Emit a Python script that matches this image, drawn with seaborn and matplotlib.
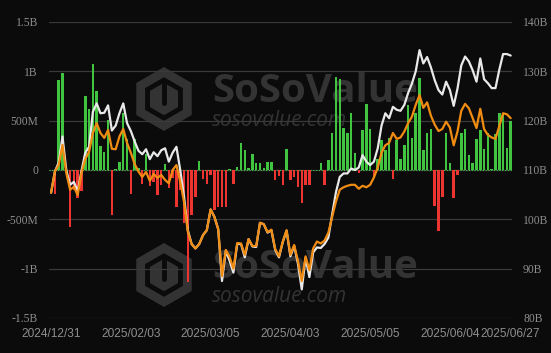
import numpy as np
import pandas as pd
import seaborn as sns
from matplotlib import pyplot as plt
from matplotlib.patches import RegularPolygon
from matplotlib.ticker import FuncFormatter

# 每日净流入 (B USD)
flows = [
    0.0, -0.24, 0.91, 0.98, 0.0, -0.58, -0.20, -0.28, -0.21, 0.75,
    0.62, 1.07, 0.80, 0.24, 0.18, 0.51, -0.46, 0.01, 0.08, 0.58,
    0.31, -0.24, 0.31, 0.02, -0.14, 0.16, -0.16, -0.12, -0.25, -0.15,
    0.06, -0.18, -0.08, -0.37, -0.20, -0.54, -1.14, -0.46, -0.27, 0.09,
    -0.09, -0.14, -0.05, -0.41, -0.37, -0.37, -0.37, 0.01, -0.14, 0.03,
    0.27, 0.20, 0.02, 0.16, 0.07, 0.07, 0.02, 0.08, 0.08, -0.10,
    -0.06, -0.15, 0.21, -0.10, -0.07, -0.17, -0.33, -0.15, -0.15, 0.0,
    0.0, 0.07, -0.15, 0.10, 0.38, 0.94, 0.92, 0.43, 0.37, 0.58,
    0.17, -0.03, 0.41, 0.67, 0.42, -0.08, 0.11, 0.30, 0.20, 0.32,
    -0.09, 0.30, 0.11, 0.25, 0.66, 0.32, 0.58, 0.93, 0.20, 0.37,
    0.42, -0.36, -0.62, -0.27, 0.37, 0.07, -0.28, -0.05, 0.38, 0.42,
    0.15, 0.07, 0.31, 0.41, 0.21, 0.38, 0.01, 0.36, 0.58, 0.57,
    0.22, 0.50,
]

# 总净资产 (B USD, 白线)
total_assets = [
    105.4, 109.7, 111.5, 116.8, 110.0, 107.0, 107.6, 105.6, 109.8, 113.5,
    114.7, 121.8, 123.5, 121.5, 121.6, 123.1, 118.0, 119.0, 121.5, 123.5,
    119.5, 117.9, 115.8, 113.9, 113.2, 114.2, 112.2, 113.6, 112.8, 114.0,
    114.4, 111.7, 113.5, 114.7, 110.0, 104.6, 97.8, 95.0, 94.1, 95.0,
    96.8, 97.8, 102.0, 100.5, 98.0, 87.5, 93.6, 91.6, 89.2, 95.0,
    95.0, 92.3, 96.0, 94.5, 94.4, 99.3, 99.0, 97.3, 97.8, 93.8,
    92.3, 95.4, 97.7, 92.5, 94.6, 91.0, 85.8, 92.2, 88.3, 93.3,
    94.3, 94.2, 95.0, 96.3, 101.0, 105.5, 108.6, 109.3, 109.3, 110.3,
    110.0, 110.5, 113.0, 111.7, 111.0, 111.7, 114.4, 119.0, 121.5, 120.5,
    122.8, 122.2, 122.0, 123.2, 125.6, 127.5, 130.0, 134.3, 131.6, 132.9,
    130.8, 128.2, 126.2, 125.3, 127.9, 126.2, 123.0, 126.5, 131.2, 133.0,
    132.0, 130.2, 127.9, 132.6, 128.4, 127.6, 126.6, 126.6, 130.3, 133.5,
    133.5, 133.2,
]

# 第二条资产线 (B USD, 橙线)
other_assets = [
    105.4, 109.7, 111.0, 115.1, 109.4, 106.0, 106.6, 104.9, 109.4, 112.2,
    113.7, 117.5, 119.5, 117.5, 116.5, 118.1, 114.3, 114.2, 116.8, 118.3,
    115.5, 113.5, 111.2, 109.7, 108.6, 109.6, 107.8, 109.2, 108.4, 109.0,
    108.0, 107.3, 110.0, 111.0, 107.6, 103.5, 97.5, 95.0, 94.1, 95.0,
    96.8, 97.8, 102.0, 100.5, 98.0, 88.5, 93.8, 92.4, 90.0, 95.2,
    95.1, 92.8, 96.0, 94.6, 94.6, 99.3, 99.0, 97.4, 97.9, 94.0,
    92.5, 95.5, 97.8, 92.8, 94.8, 91.5, 87.5, 92.5, 89.7, 94.1,
    95.5, 95.1, 95.7, 97.3, 100.5, 103.6, 106.0, 106.5, 106.8, 107.0,
    107.0, 106.2, 106.8, 106.5, 107.0, 108.5, 110.5, 113.5, 115.0, 115.5,
    117.5, 116.3, 116.6, 117.8, 119.5, 120.8, 123.2, 125.2, 122.6, 123.7,
    121.0, 119.2, 117.9, 118.3, 119.8, 118.6, 115.0, 117.8, 122.0, 123.4,
    122.5, 120.5, 118.5, 122.4, 118.3, 117.1, 116.6, 116.3, 118.9, 121.5,
    121.3, 120.5,
]

# 交易日 (美股休市日除外)
holidays = ["2025-01-01", "2025-01-09", "2025-01-20", "2025-02-17",
            "2025-04-18", "2025-05-26", "2025-06-19"]
tick_dates = ["2024/12/31", "2025/02/03", "2025/03/05", "2025/04/03",
              "2025/05/05", "2025/06/04", "2025/06/27"]

BG = "#0b0b0b"
GREEN = "#41c440"
RED = "#ec3431"
WHITE = "#e9e9e9"
ORANGE = "#f18c12"
GRID = "#3a3a3a"
TEXT = "#8e8e8e"
MARK = "#333333"

days = pd.bdate_range("2024-12-31", "2025-06-27", freq="C", holidays=holidays)
labels = list(days.strftime("%Y/%m/%d"))
assert len(labels) == len(flows) == len(total_assets) == len(other_assets)

df = pd.DataFrame({
    "idx": np.arange(len(labels)),
    "flow": np.array(flows) * 1e9,
    "total": total_assets,
    "other": other_assets,
})
df["side"] = np.where(df["flow"] < 0, "out", "in")

sns.set_theme(style="dark")
plt.rcParams["font.family"] = ["Liberation Sans", "DejaVu Sans"]

fig = plt.figure(figsize=(5.51, 3.53), dpi=100, facecolor=BG)

# 水印 (底层)
ov = fig.add_axes([0, 0, 1, 1])
ov.set_xlim(0, 551)
ov.set_ylim(353, 0)
ov.axis("off")
ov.set_zorder(-1)
for cy, ty in [(99, 91), (275, 267)]:
    ov.add_patch(RegularPolygon((164, cy), 6, radius=32, facecolor=MARK, edgecolor="none"))
    ov.add_patch(RegularPolygon((164, cy), 6, radius=19, facecolor="none", edgecolor=BG, lw=3.5))
    ov.plot([164, 164], [cy - 19, cy + 4], color=BG, lw=3.5)
    ov.text(212, ty, "SoSoValue", fontsize=29, fontweight="bold", family="Open Sans",
            color=MARK, va="center", ha="left")
    ov.text(212, ty + 29, "sosovalue.com", fontsize=15, style="italic", family="Open Sans",
            color=MARK, va="center", ha="left")

ax = fig.add_axes([49 / 551, 35 / 353, 463 / 551, 296 / 353])
ax.patch.set_alpha(0)

sns.barplot(data=df, x="idx", y="flow", hue="side", palette={"in": GREEN, "out": RED},
            native_scale=True, dodge=False, width=0.65, saturation=1, errorbar=None,
            legend=False, ax=ax, zorder=2, linewidth=0, edgecolor="none")
ax.axhline(0, color=GREEN, lw=0.8, ls=(0, (1, 1.5)), zorder=1.5)

ax.set_ylim(-1.5e9, 1.5e9)
ax.set_yticks(np.arange(-1.5e9, 1.51e9, 0.5e9))


def fmt_flow(v, pos):
    if abs(v) < 1:
        return "0"
    if abs(v) >= 1e9:
        return f"{v / 1e9:g}B"
    return f"{v / 1e6:g}M"


ax.yaxis.set_major_formatter(FuncFormatter(fmt_flow))
ax.yaxis.grid(True, color=GRID, lw=0.9)
ax.xaxis.grid(False)
ax.set_axisbelow(True)

ax2 = ax.twinx()
sns.lineplot(data=df, x="idx", y="total", color=WHITE, lw=1.6, ax=ax2)
sns.lineplot(data=df, x="idx", y="other", color=ORANGE, lw=1.6, ax=ax2)
ax2.set_ylim(80, 140)
ax2.set_yticks(np.arange(80, 141, 10))
ax2.yaxis.set_major_formatter(FuncFormatter(lambda v, p: f"{v:g}B"))
ax2.grid(False)

ax.set_xlim(-0.55, len(labels) - 0.65)
ax.set_xticks([labels.index(d) for d in tick_dates])
ax.set_xticklabels(tick_dates)

for a in (ax, ax2):
    a.set_xlabel("")
    a.set_ylabel("")
    for s in a.spines.values():
        s.set_visible(False)
    a.tick_params(length=0, colors=TEXT)

ax.tick_params(axis="x", pad=7, labelsize=8.6)
ax.tick_params(axis="y", pad=8, labelsize=8.4)
ax2.tick_params(axis="y", pad=8, labelsize=8.4)
for t in ax.get_yticklabels() + ax2.get_yticklabels():
    t.set_family("Liberation Serif")

fig.savefig("out.png", dpi=100, facecolor=BG)
